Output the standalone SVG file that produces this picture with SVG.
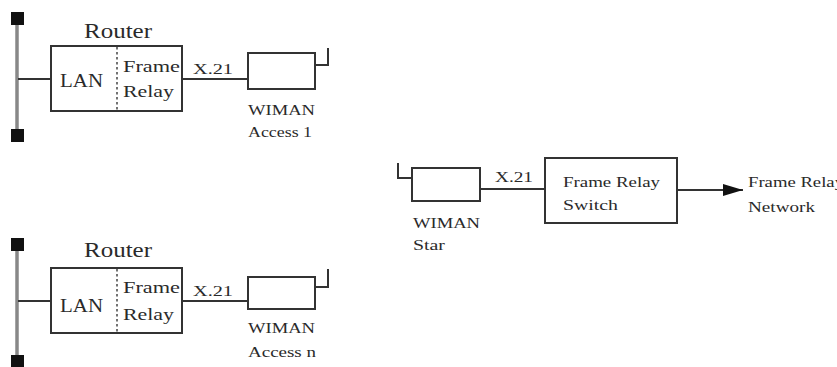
<svg xmlns="http://www.w3.org/2000/svg" width="837" height="367" viewBox="0 0 837 367">
<defs>
<style>
.t{font-family:"Liberation Serif","Times New Roman",serif;fill:#2a2a2a;}
.box{fill:#fff;stroke:#333;stroke-width:2;}
.ln{fill:none;stroke:#333;stroke-width:2;}
.bus{stroke:#888;stroke-width:3.5;}
.dash{stroke:#444;stroke-width:1.5;stroke-dasharray:2.5,2.5;}
</style>
<marker id="arr" markerWidth="20" markerHeight="12" refX="20" refY="6" orient="auto" markerUnits="userSpaceOnUse" viewBox="0 0 20 12">
<path d="M0,0 L20,6 L0,12 Z" fill="#111"/>
</marker>
</defs>
<rect width="837" height="367" fill="#fff"/>

<g id="bus1">
<line class="bus" x1="17" y1="24" x2="17" y2="130"/>
<rect x="11" y="12" width="13" height="13" fill="#111"/>
<rect x="11" y="129" width="13" height="13" fill="#111"/>
</g>
<g id="bus2">
<line class="bus" x1="17" y1="250" x2="17" y2="357"/>
<rect x="11" y="238" width="13" height="13" fill="#111"/>
<rect x="11" y="355" width="13" height="13" fill="#111"/>
</g>

<g id="router1">
<text class="t" x="84" y="38" font-size="20" textLength="68" lengthAdjust="spacingAndGlyphs">Router</text>
<rect class="box" x="51" y="46" width="131" height="65"/>
<line class="dash" x1="117" y1="47" x2="117" y2="110"/>
<text class="t" x="60" y="87" font-size="19" textLength="43" lengthAdjust="spacingAndGlyphs">LAN</text>
<text class="t" x="123" y="72" font-size="16" textLength="57" lengthAdjust="spacingAndGlyphs">Frame</text>
<text class="t" x="123" y="97" font-size="16" textLength="51" lengthAdjust="spacingAndGlyphs">Relay</text>
</g>
<g id="wiman1">
<rect class="box" x="248" y="53" width="67" height="36"/>
<polyline class="ln" points="315,65 328,65 328,48"/>
<text class="t" x="248" y="115" font-size="15" textLength="67" lengthAdjust="spacingAndGlyphs">WIMAN</text>
<text class="t" x="248" y="137" font-size="15" textLength="64" lengthAdjust="spacingAndGlyphs">Access 1</text>
</g>

<g id="router2">
<text class="t" x="84" y="257" font-size="20" textLength="68" lengthAdjust="spacingAndGlyphs">Router</text>
<rect class="box" x="51" y="268" width="131" height="65"/>
<line class="dash" x1="117" y1="269" x2="117" y2="332"/>
<text class="t" x="60" y="312" font-size="19" textLength="43" lengthAdjust="spacingAndGlyphs">LAN</text>
<text class="t" x="123" y="293" font-size="16" textLength="57" lengthAdjust="spacingAndGlyphs">Frame</text>
<text class="t" x="123" y="320" font-size="16" textLength="51" lengthAdjust="spacingAndGlyphs">Relay</text>
</g>
<g id="wiman2">
<rect class="box" x="248" y="277" width="67" height="32"/>
<polyline class="ln" points="315,287 328,287 328,269"/>
<text class="t" x="248" y="333" font-size="15" textLength="67" lengthAdjust="spacingAndGlyphs">WIMAN</text>
<text class="t" x="248" y="357" font-size="15" textLength="68" lengthAdjust="spacingAndGlyphs">Access n</text>
</g>

<g id="wimanstar">
<polyline class="ln" points="398,163 398,178 412,178"/>
<rect class="box" x="412" y="168" width="68" height="33"/>
<text class="t" x="413" y="228" font-size="15" textLength="67" lengthAdjust="spacingAndGlyphs">WIMAN</text>
<text class="t" x="413" y="250" font-size="15" textLength="32" lengthAdjust="spacingAndGlyphs">Star</text>
</g>
<g id="switch">
<rect class="box" x="545" y="158" width="132" height="65"/>
<text class="t" x="563" y="187" font-size="15" textLength="97" lengthAdjust="spacingAndGlyphs">Frame Relay</text>
<text class="t" x="563" y="210" font-size="15" textLength="55" lengthAdjust="spacingAndGlyphs">Switch</text>
</g>
<g id="network">
<text class="t" x="748" y="187" font-size="15" textLength="96" lengthAdjust="spacingAndGlyphs">Frame Relay</text>
<text class="t" x="748" y="212" font-size="15" textLength="67" lengthAdjust="spacingAndGlyphs">Network</text>
</g>

<g id="connectors">
<line class="ln" x1="18" y1="79" x2="51" y2="79"/>
<line class="ln" x1="182" y1="79" x2="248" y2="79"/>
<text class="t" x="193" y="74" font-size="15" textLength="40" lengthAdjust="spacingAndGlyphs">X.21</text>
<line class="ln" x1="18" y1="301" x2="51" y2="301"/>
<line class="ln" x1="182" y1="301" x2="248" y2="301"/>
<text class="t" x="193" y="296" font-size="15" textLength="40" lengthAdjust="spacingAndGlyphs">X.21</text>
<line class="ln" x1="480" y1="189" x2="545" y2="189"/>
<text class="t" x="495" y="182" font-size="15" textLength="38" lengthAdjust="spacingAndGlyphs">X.21</text>
<line class="ln" x1="677" y1="190" x2="743" y2="190" marker-end="url(#arr)"/>
</g>
</svg>
